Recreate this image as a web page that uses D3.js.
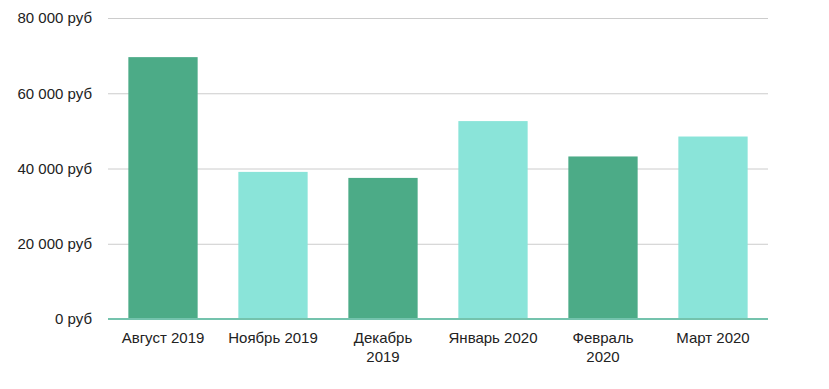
<!DOCTYPE html>
<html>
<head>
<meta charset="utf-8">
<script src="https://cdn.jsdelivr.net/npm/d3@7"></script>
<style>
  body { margin: 0; background: #fff; }
  text { font-family: "Liberation Sans", Arial, sans-serif; fill: #222; }
</style>
</head>
<body>
<div id="chart"></div>
<script>
// months shown on the x axis
var categories = ["Август 2019", "Ноябрь 2019", "Декабрь 2019", "Январь 2020", "Февраль 2020", "Март 2020"];
// how the tick labels break into lines
var tickLines = [["Август 2019"], ["Ноябрь 2019"], ["Декабрь", "2019"], ["Январь 2020"], ["Февраль", "2020"], ["Март 2020"]];
var values = [69600, 39100, 37500, 52600, 43200, 48500];
var yTicks = [0, 20000, 40000, 60000, 80000];
var barColors = ["#4cab87", "#8ae4d9"];

var width = 829, height = 389,
    margin = {top: 18, right: 61, bottom: 70, left: 108};

var svg = d3.select("#chart").append("svg")
    .attr("width", width).attr("height", height);

var x = d3.scaleBand().domain(categories)
    .range([margin.left, width - margin.right])
    .paddingInner(0.37).paddingOuter(0.185);
var y = d3.scaleLinear().domain([0, 80000])
    .range([height - margin.bottom, margin.top]);

var fmt = function (d) { return d3.format(",")(d).replace(/,/g, " ") + " руб"; };

// gridlines + y labels
var yAxis = svg.append("g")
    .attr("transform", "translate(" + margin.left + ",0)")
    .call(d3.axisLeft(y).tickValues(yTicks).tickFormat(fmt)
        .tickSize(-(width - margin.left - margin.right)).tickPadding(16));
yAxis.select(".domain").remove();
yAxis.selectAll(".tick line").attr("stroke", "#cccccc");
yAxis.selectAll(".tick text").attr("font-size", "15px").attr("fill", "#222");

// bars
svg.selectAll("rect.bar").data(values).enter().append("rect")
    .attr("class", "bar")
    .attr("x", function (d, i) { return x(categories[i]); })
    .attr("y", function (d) { return y(d); })
    .attr("width", x.bandwidth())
    .attr("height", function (d) { return y(0) - y(d); })
    .attr("fill", function (d, i) { return barColors[i % 2]; });

// baseline
svg.append("line")
    .attr("x1", margin.left).attr("x2", width - margin.right)
    .attr("y1", y(0)).attr("y2", y(0))
    .attr("stroke", "#74c3ad").attr("stroke-width", 2);

// x labels
var xl = svg.append("g").selectAll("text").data(categories).enter().append("text")
    .attr("text-anchor", "middle")
    .attr("font-size", "15px")
    .attr("x", function (d) { return x(d) + x.bandwidth() / 2; })
    .attr("y", y(0) + 24);
xl.each(function (d, i) {
    var t = d3.select(this);
    tickLines[i].forEach(function (line, j) {
        t.append("tspan")
            .attr("x", x(d) + x.bandwidth() / 2)
            .attr("dy", j === 0 ? 0 : 19)
            .text(line);
    });
});
</script>
</body>
</html>
